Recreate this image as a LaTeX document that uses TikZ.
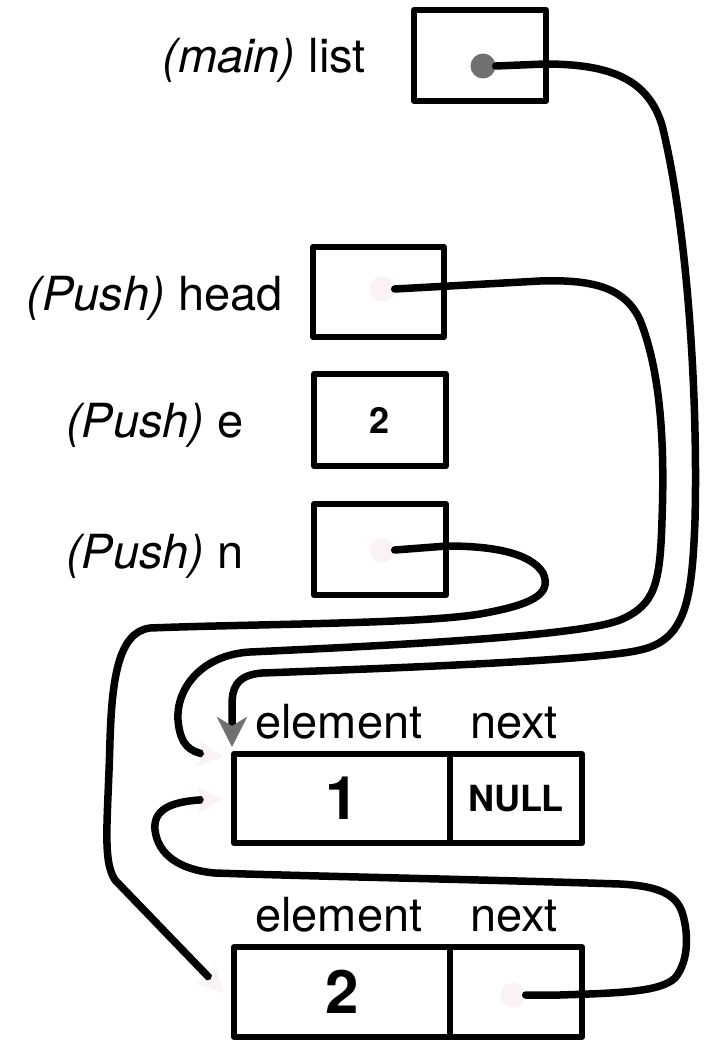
\documentclass[tikz,border=0pt]{standalone}
\usepackage{fontspec}
\setmainfont{TeX Gyre Heros}
\usepackage{tikz}
\usetikzlibrary{arrows.meta, positioning}
\definecolor{PtrGray}{HTML}{707070}
\definecolor{FaintPink}{HTML}{FBF3F3}

\begin{document}
\begin{tikzpicture}[x=1pt, y=-1pt, line join=round,
  cell/.style={draw, line width=6pt, inner sep=0pt, outer sep=0pt, minimum width=132pt, minimum height=91pt},
  elem/.style={cell, minimum width=216pt},
  varlbl/.style={font=\fontsize{47}{56}\selectfont, anchor=base east, inner sep=0pt},
  fieldlbl/.style={font=\fontsize{47}{56}\selectfont, anchor=base west, inner sep=0pt},
  bignum/.style={font=\fontsize{60}{70}\selectfont\bfseries},
  smallnum/.style={font=\fontsize{36}{42}\selectfont\bfseries},
  dot/.style={circle, inner sep=0pt, minimum size=25pt},
  ptr/.style={line width=7.5pt, line cap=round},
  fadetip/.style={-{Stealth[color=FaintPink, length=26pt, width=26pt, inset=7pt]}}]
  \useasboundingbox (0,0) rectangle (705,1041);

  % variables
  \node[cell] (list) at (480,55.5) {};
  \node[cell, minimum width=131pt, minimum height=90pt] (head) at (378.5,292) {};
  \node[cell, minimum height=92pt] (e) at (380,420) {\fontsize{36}{42}\selectfont\bfseries 2};
  \node[cell] (n) at (380,549.5) {};
  \node[varlbl] (listlbl) at (366,73) {\textit{(main)} list};
  \node[varlbl] (headlbl) at (283,310) {\textit{(Push)} head};
  \node[varlbl] (elbl) at (244,437) {\textit{(Push)} e};
  \node[varlbl] (nlbl) at (244,568) {\textit{(Push)} n};

  % list nodes
  \node[elem, minimum height=89pt, bignum] (elem1) at (342,798.5) {1};
  \node[cell, minimum height=89pt, smallnum, right=0pt of elem1] (next1) {NULL};
  \node[elem, minimum height=90pt, bignum] (elem2) at (342,992) {2};
  \node[cell, minimum height=90pt, right=0pt of elem2] (next2) {};
  \node[fieldlbl] (elemlbl1) at (255,738) {element};
  \node[fieldlbl] (nextlbl1) at (470,738) {next};
  \node[fieldlbl] (elemlbl2) at (255,931) {element};
  \node[fieldlbl] (nextlbl2) at (470,931) {next};

  % pointer dots
  \node[dot, fill=PtrGray] (listdot) at (483,66) {};
  \node[dot, fill=FaintPink] (headdot) at (382,289) {};
  \node[dot, fill=FaintPink] (ndot) at (382,550) {};
  \node[dot, fill=FaintPink] (next2dot) at (513,995) {};

  \coordinate (listend) at (232,747);
  \coordinate (headend) at (223,757);
  \coordinate (nend) at (224,993);
  \coordinate (next2end) at (223,799);

  % pointers
  \draw[ptr, -{Stealth[color=PtrGray, length=30pt, width=30pt, inset=9pt]}]
    (listdot.east) -- (545,64) .. controls (612,64) and (648,80) .. (662,125)
    .. controls (688,230) and (698,400) .. (695,520)
    .. controls (692,600) and (686,640) .. (640,650)
    .. controls (600,660) and (400,668) .. (262,673)
    .. controls (235,675) and (232,690) .. (232,705) -- (listend);
  \draw[ptr, fadetip]
    (headdot.east) -- (540,281) .. controls (598,279) and (626,290) .. (640,320)
    .. controls (660,370) and (665,440) .. (662,520)
    .. controls (660,585) and (655,605) .. (620,620)
    .. controls (580,636) and (400,645) .. (250,652)
    .. controls (200,655) and (176,690) .. (178,720)
    .. controls (180,745) and (190,752) .. (headend);
  \draw[ptr, fadetip]
    (ndot.east) -- (447,546) .. controls (490,546) and (530,552) .. (543,573)
    .. controls (553,595) and (530,605) .. (480,614)
    .. controls (420,624) and (250,624) .. (150,628)
    .. controls (118,632) and (112,680) .. (110,740)
    .. controls (108,820) and (102,860) .. (115,880) -- (nend);
  \draw[ptr, fadetip]
    (next2dot.east) -- (560,995) .. controls (620,993) and (660,992) .. (675,978)
    .. controls (690,960) and (688,930) .. (682,912)
    .. controls (676,895) and (660,886) .. (620,884)
    .. controls (500,880) and (300,876) .. (215,873)
    .. controls (180,870) and (158,855) .. (155,830)
    .. controls (153,810) and (170,801) .. (next2end);
\end{tikzpicture}
\end{document}
